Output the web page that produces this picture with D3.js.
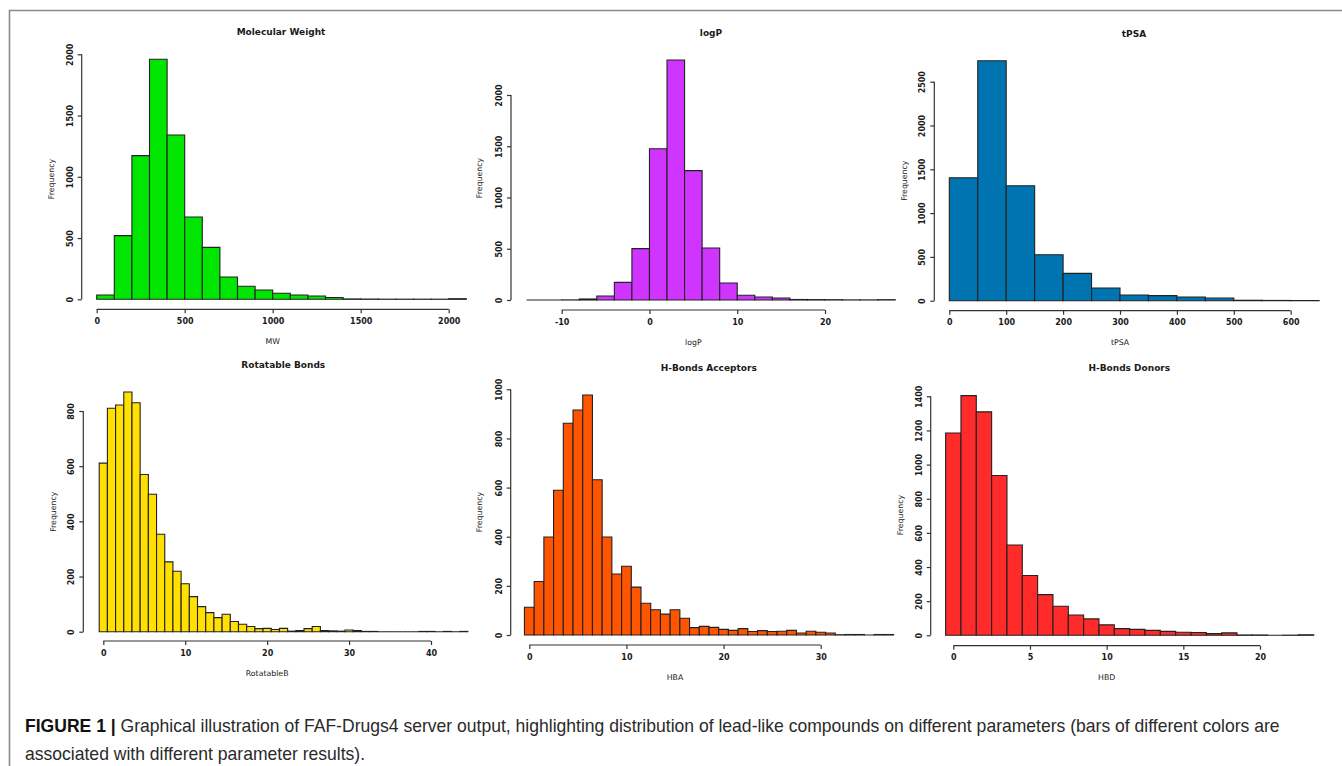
<!DOCTYPE html>
<html>
<head>
<meta charset="utf-8">
<script src="https://cdn.jsdelivr.net/npm/d3@7"></script>
<style>
  html, body { margin: 0; padding: 0; background: #fff; }
  svg { display: block; }
  .tick text { font-family: "DejaVu Sans", sans-serif; }
</style>
</head>
<body>
<svg id="fig" width="1342" height="766"></svg>
<script>
// ---- data (histogram counts) ----
const titles = ['Molecular Weight', 'logP', 'tPSA', 'Rotatable Bonds', 'H-Bonds Acceptors', 'H-Bonds Donors'];
const xLabels = ['MW', 'logP', 'tPSA', 'RotatableB', 'HBA', 'HBD'];

const mwStart = 0, mwWidth = 100;
const mwCounts = [35, 520, 1173, 1959, 1341, 672, 424, 182, 106, 76, 49, 35, 27, 15, 3, 2, 1, 1, 1, 1, 5];
const mwXTicks = [0, 500, 1000, 1500, 2000];
const mwYTicks = [0, 500, 1000, 1500, 2000];

const logpStart = -14, logpWidth = 2;
const logpCounts = [0, 0, 1, 10, 39, 172, 501, 1476, 2341, 1262, 507, 166, 46, 29, 20, 5, 4, 3, 1, 1, 3];
const logpXTicks = [-10, 0, 10, 20];
const logpYTicks = [0, 500, 1000, 1500, 2000];

const tpsaStart = 0, tpsaWidth = 50;
const tpsaCounts = [1404, 2740, 1313, 525, 312, 145, 65, 58, 42, 30, 5, 3, 2];
const tpsaXTicks = [0, 100, 200, 300, 400, 500, 600];
const tpsaYTicks = [0, 500, 1000, 1500, 2000, 2500];

const rotStart = -0.5, rotWidth = 1;
const rotCounts = [611, 810, 822, 869, 830, 570, 498, 353, 253, 219, 174, 127, 91, 69, 51, 63, 37, 27, 19, 11,
  12, 8, 12, 2, 4, 11, 19, 4, 3, 2, 6, 4, 1, 1, 0, 0, 0, 0, 0, 1, 1, 0, 1, 0, 1];
const rotXTicks = [0, 10, 20, 30, 40];
const rotYTicks = [0, 200, 400, 600, 800];

const hbaStart = -0.5, hbaWidth = 1;
const hbaCounts = [113, 218, 399, 589, 862, 916, 977, 632, 399, 248, 280, 195, 129, 103, 85, 103, 68, 30, 35, 31,
  23, 19, 26, 14, 18, 14, 15, 19, 8, 15, 11, 8, 1, 2, 2, 0, 2, 2];
const hbaXTicks = [0, 10, 20, 30];
const hbaYTicks = [0, 200, 400, 600, 800, 1000];

const hbdStart = -0.5, hbdWidth = 1;
const hbdCounts = [1185, 1404, 1309, 936, 529, 350, 238, 170, 119, 96, 61, 39, 35, 29, 23, 18, 16, 10, 14, 2, 2, 0, 1, 3];
const hbdXTicks = [0, 5, 10, 15, 20];
const hbdYTicks = [0, 200, 400, 600, 800, 1000, 1200, 1400];

const colors = ['#00e600', '#cf35ff', '#0074b0', '#ffe000', '#ff5500', '#ff2a2a'];

// ---- layout of each panel (pixel anchors of first/last ticks) ----
const layout = [
  { x0: 96.7, x1: 448.7, y0: 299.3, y1: 54.3, axX: 81.7, axY: 309.3, titleX: 281, titleY: 32, freqX: 51.7, freqY: 179 },
  { x0: 561.7, x1: 825, y0: 300, y1: 95, axX: 511, axY: 310, titleX: 711, titleY: 33, freqX: 479.5, freqY: 178 },
  { x0: 949.3, x1: 1290.7, y0: 300.7, y1: 81.7, axX: 934.3, axY: 310.7, titleX: 1134, titleY: 33.5, freqX: 904, freqY: 180.7 },
  { x0: 103.3, x1: 431, y0: 631.7, y1: 411, axX: 83.3, axY: 641, titleX: 283.3, titleY: 364.5, freqX: 53.3, freqY: 511.7 },
  { x0: 529.3, x1: 820.7, y0: 635, y1: 389.3, axX: 510.7, axY: 645, titleX: 708.7, titleY: 367.5, freqX: 479.5, freqY: 512 },
  { x0: 953.3, x1: 1260, y0: 635.3, y1: 396.3, axX: 930.7, axY: 645.7, titleX: 1129.3, titleY: 368, freqX: 900.7, freqY: 515 }
];

const panels = [
  { start: mwStart, width: mwWidth, counts: mwCounts, xTicks: mwXTicks, yTicks: mwYTicks },
  { start: logpStart, width: logpWidth, counts: logpCounts, xTicks: logpXTicks, yTicks: logpYTicks },
  { start: tpsaStart, width: tpsaWidth, counts: tpsaCounts, xTicks: tpsaXTicks, yTicks: tpsaYTicks },
  { start: rotStart, width: rotWidth, counts: rotCounts, xTicks: rotXTicks, yTicks: rotYTicks },
  { start: hbaStart, width: hbaWidth, counts: hbaCounts, xTicks: hbaXTicks, yTicks: hbaYTicks },
  { start: hbdStart, width: hbdWidth, counts: hbdCounts, xTicks: hbdXTicks, yTicks: hbdYTicks }
].map((p, i) => Object.assign(p, layout[i], { title: titles[i], xLabel: xLabels[i], color: colors[i] }));

const svg = d3.select('#fig');
svg.append('rect').attr('width', 1342).attr('height', 766).attr('fill', '#fff');

// frame lines of the page
svg.append('path').attr('d', 'M9.5,766V10.5H1342').attr('fill', 'none').attr('stroke', '#8a8a8a').attr('stroke-width', 1.6);

const font = '"DejaVu Sans", sans-serif';
const ink = '#1a1a1a';
const fmt = d => String(d);   // plain integers, ASCII minus like R

panels.forEach(p => {
  const xT = p.xTicks, yT = p.yTicks;
  const x = d3.scaleLinear().domain([xT[0], xT[xT.length - 1]]).range([p.x0, p.x1]);
  const y = d3.scaleLinear().domain([0, yT[yT.length - 1]]).range([p.y0, p.y1]);
  const g = svg.append('g');

  const bins = p.counts.map((c, k) => ({ lo: p.start + k * p.width, hi: p.start + (k + 1) * p.width, c }));

  // paths so that empty bins still show as a flat line, as in R
  g.selectAll('path.bar').data(bins).join('path')
    .attr('class', 'bar')
    .attr('d', d => `M${x(d.lo)},${y(0)}V${y(d.c)}H${x(d.hi)}V${y(0)}Z`)
    .attr('fill', p.color)
    .attr('stroke', '#222')
    .attr('stroke-width', 1.1);

  // x axis (R style: line spans first..last tick, offset below)
  const xAxis = g.append('g').attr('transform', `translate(0,${p.axY})`)
    .call(d3.axisBottom(x).tickValues(xT).tickFormat(fmt).tickSize(4).tickPadding(5).tickSizeOuter(0));
  xAxis.select('.domain').remove();
  xAxis.append('line').attr('x1', x(xT[0])).attr('x2', x(xT[xT.length - 1]))
    .attr('stroke', '#333').attr('stroke-width', 1.2);
  xAxis.selectAll('.tick line').attr('stroke', '#333').attr('stroke-width', 1.2);
  xAxis.selectAll('.tick text').attr('font-size', 8).attr('font-weight', 'bold').attr('fill', ink);

  // y axis with rotated labels
  const yAxis = g.append('g').attr('transform', `translate(${p.axX},0)`)
    .call(d3.axisLeft(y).tickValues(yT).tickFormat(fmt).tickSize(4).tickSizeOuter(0));
  yAxis.select('.domain').remove();
  yAxis.append('line').attr('y1', y(yT[0])).attr('y2', y(yT[yT.length - 1]))
    .attr('stroke', '#333').attr('stroke-width', 1.2);
  yAxis.selectAll('.tick line').attr('stroke', '#333').attr('stroke-width', 1.2);
  yAxis.selectAll('.tick text')
    .attr('x', null).attr('dy', null)
    .attr('transform', 'translate(-11.5,0) rotate(-90)')
    .attr('text-anchor', 'middle')
    .attr('dominant-baseline', 'central')
    .attr('font-size', 8).attr('font-weight', 'bold').attr('fill', ink);

  g.append('text').attr('x', p.titleX).attr('y', p.titleY)
    .attr('text-anchor', 'middle').attr('dominant-baseline', 'central')
    .attr('font-family', font).attr('font-weight', 'bold').attr('font-size', 9).attr('fill', ink)
    .text(p.title);

  g.append('text').attr('x', (p.x0 + p.x1) / 2).attr('y', p.axY + 32)
    .attr('text-anchor', 'middle').attr('dominant-baseline', 'central')
    .attr('font-family', font).attr('font-size', 7.8).attr('fill', ink)
    .text(p.xLabel);

  g.append('text')
    .attr('transform', `translate(${p.freqX},${p.freqY}) rotate(-90)`)
    .attr('text-anchor', 'middle').attr('dominant-baseline', 'central')
    .attr('font-family', font).attr('font-size', 7.8).attr('fill', ink)
    .text('Frequency');
});

// ---- caption ----
const capFont = '"Liberation Sans", Arial, sans-serif';
const cap1 = svg.append('text').attr('x', 25).attr('y', 732)
  .attr('font-family', capFont).attr('font-size', 17).attr('fill', '#2a2a2a');
cap1.append('tspan').attr('font-weight', 'bold').attr('fill', '#111').text('FIGURE 1 | ');
cap1.append('tspan').text('Graphical illustration of FAF-Drugs4 server output, highlighting distribution of lead-like compounds on different parameters (bars of different colors are');
const cap2 = svg.append('text').attr('x', 25).attr('y', 760)
  .attr('font-family', capFont).attr('font-size', 17).attr('fill', '#2a2a2a')
  .text('associated with different parameter results).');

// fit the first line to its width in the figure
const w1 = cap1.node().getComputedTextLength();
const fs = 17 * 1255 / w1;
cap1.attr('font-size', fs);
cap2.attr('font-size', fs);
</script>
</body>
</html>
